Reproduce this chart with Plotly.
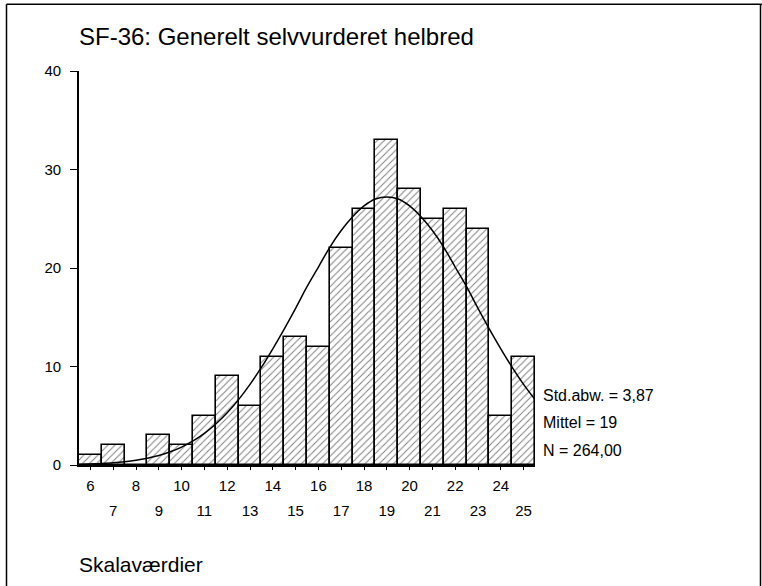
import plotly.graph_objects as go

# ---- data ----
scores = list(range(6, 26))
counts = [1, 2, 0, 3, 2, 5, 9, 6, 11, 13, 12, 22, 26, 33, 28, 25, 26, 24, 5, 11]

curve_x = [5.5, 6, 6.5, 7, 7.5, 8, 8.5, 9, 9.5, 10, 10.5, 11, 11.5, 12, 12.5, 13, 13.5,
           14, 14.5, 15, 15.5, 16, 16.5, 17, 17.5, 18, 18.5, 19, 19.5, 20, 20.5, 21,
           21.5, 22, 22.5, 23, 23.5, 24, 24.5, 25, 25.5]
curve_y = [0.06, 0.10, 0.15, 0.22, 0.33, 0.48, 0.69, 0.97, 1.34, 1.82, 2.44, 3.21, 4.16,
           5.30, 6.64, 8.18, 9.91, 11.8, 13.8, 15.9, 18.1, 20.1, 22.1, 23.8, 25.2, 26.3,
           27.0, 27.2, 27.0, 26.3, 25.2, 23.8, 22.1, 20.1, 18.1, 15.9, 13.8, 11.8, 9.91,
           8.18, 6.64]

y_ticks = [0, 10, 20, 30, 40]
even_labels = [str(s) if s % 2 == 0 else "" for s in scores]
odd_vals = [s for s in scores if s % 2 == 1]
odd_labels = [str(s) for s in odd_vals]

stats_text = ["Std.abw. = 3,87", "Mittel = 19", "N = 264,00"]
title_text = "SF-36: Generelt selvvurderet helbred"
xaxis_title = "Skalaværdier"

FONT = "Liberation Sans, Arial, Helvetica, sans-serif"

fig = go.Figure()
fig.add_trace(go.Bar(
    x=scores, y=counts, width=1,
    marker=dict(color="white", line=dict(color="black", width=1.6),
                pattern=dict(shape="/", fgcolor="black", bgcolor="white",
                             size=5, solidity=0.2)),
    hoverinfo="x+y", showlegend=False,
))
fig.add_trace(go.Scatter(
    x=curve_x, y=curve_y, mode="lines", xaxis="x2",
    line=dict(color="black", width=1.5, shape="spline"),
    showlegend=False, hoverinfo="skip",
))

xr = [5.5, 25.5]
fig.update_layout(
    width=762, height=586,
    margin=dict(l=79, r=227, t=71, b=121),
    paper_bgcolor="white", plot_bgcolor="white",
    font=dict(family=FONT, color="black"),
    bargap=0,
    title=dict(text=title_text, x=79/762, xanchor="left", xref="container",
               y=1 - 36.5/586, yanchor="middle", yref="container",
               font=dict(size=24, family=FONT, color="black")),
    xaxis=dict(range=xr, tickvals=scores, ticktext=even_labels,
               showgrid=False, zeroline=False, showline=True, linecolor="black",
               linewidth=1.6, ticks="outside", ticklen=3, tickwidth=1.2,
               tickcolor="black", tickfont=dict(size=15), ticklabelstandoff=3,
               fixedrange=True),
    xaxis2=dict(range=xr, overlaying="x", anchor="y", side="bottom",
                tickvals=odd_vals, ticktext=odd_labels, showgrid=False,
                zeroline=False, showline=False, ticks="", tickfont=dict(size=15),
                ticklabelstandoff=35, fixedrange=True),
    yaxis=dict(range=[0, 40], tickvals=y_ticks, showgrid=False, zeroline=False,
               showline=True, linecolor="black", linewidth=1.6, ticks="outside",
               ticklen=7, tickwidth=1.4, tickcolor="black",
               tickfont=dict(size=15), ticklabelstandoff=6, fixedrange=True),
    annotations=[
        dict(text=stats_text[0], x=25.5, xref="x", xanchor="left", xshift=6,
             y=7.1, yref="y", yanchor="middle", showarrow=False, font=dict(size=16)),
        dict(text=stats_text[1], x=25.5, xref="x", xanchor="left", xshift=6,
             y=4.35, yref="y", yanchor="middle", showarrow=False, font=dict(size=16)),
        dict(text=stats_text[2], x=25.5, xref="x", xanchor="left", xshift=6,
             y=1.5, yref="y", yanchor="middle", showarrow=False, font=dict(size=16)),
        dict(text=xaxis_title, x=(77 - 79) / 456, xref="paper", xanchor="left",
             y=(465 - 564.5) / 394, yref="paper", yanchor="middle",
             showarrow=False, font=dict(size=21)),
    ],
    shapes=[
        dict(type="line", xref="paper", yref="paper",
             x0=(6.5 - 79) / 456, x1=(762 - 79) / 456,
             y0=(465 - 4.3) / 394, y1=(465 - 4.3) / 394,
             line=dict(color="black", width=1.5)),
        dict(type="line", xref="paper", yref="paper",
             x0=(6.5 - 79) / 456, x1=(6.5 - 79) / 456,
             y0=(465 - 4.3) / 394, y1=(465 - 590) / 394,
             line=dict(color="black", width=1.5)),
        dict(type="line", xref="paper", yref="paper",
             x0=(760.5 - 79) / 456, x1=(760.5 - 79) / 456,
             y0=(465 - 4.3) / 394, y1=(465 - 590) / 394,
             line=dict(color="black", width=1.5)),
    ],
)

fig.write_html("out.html",
               config={"displayModeBar": False},
               post_script="document.body.style.margin='0px';"
                           "document.body.style.overflow='hidden';")
